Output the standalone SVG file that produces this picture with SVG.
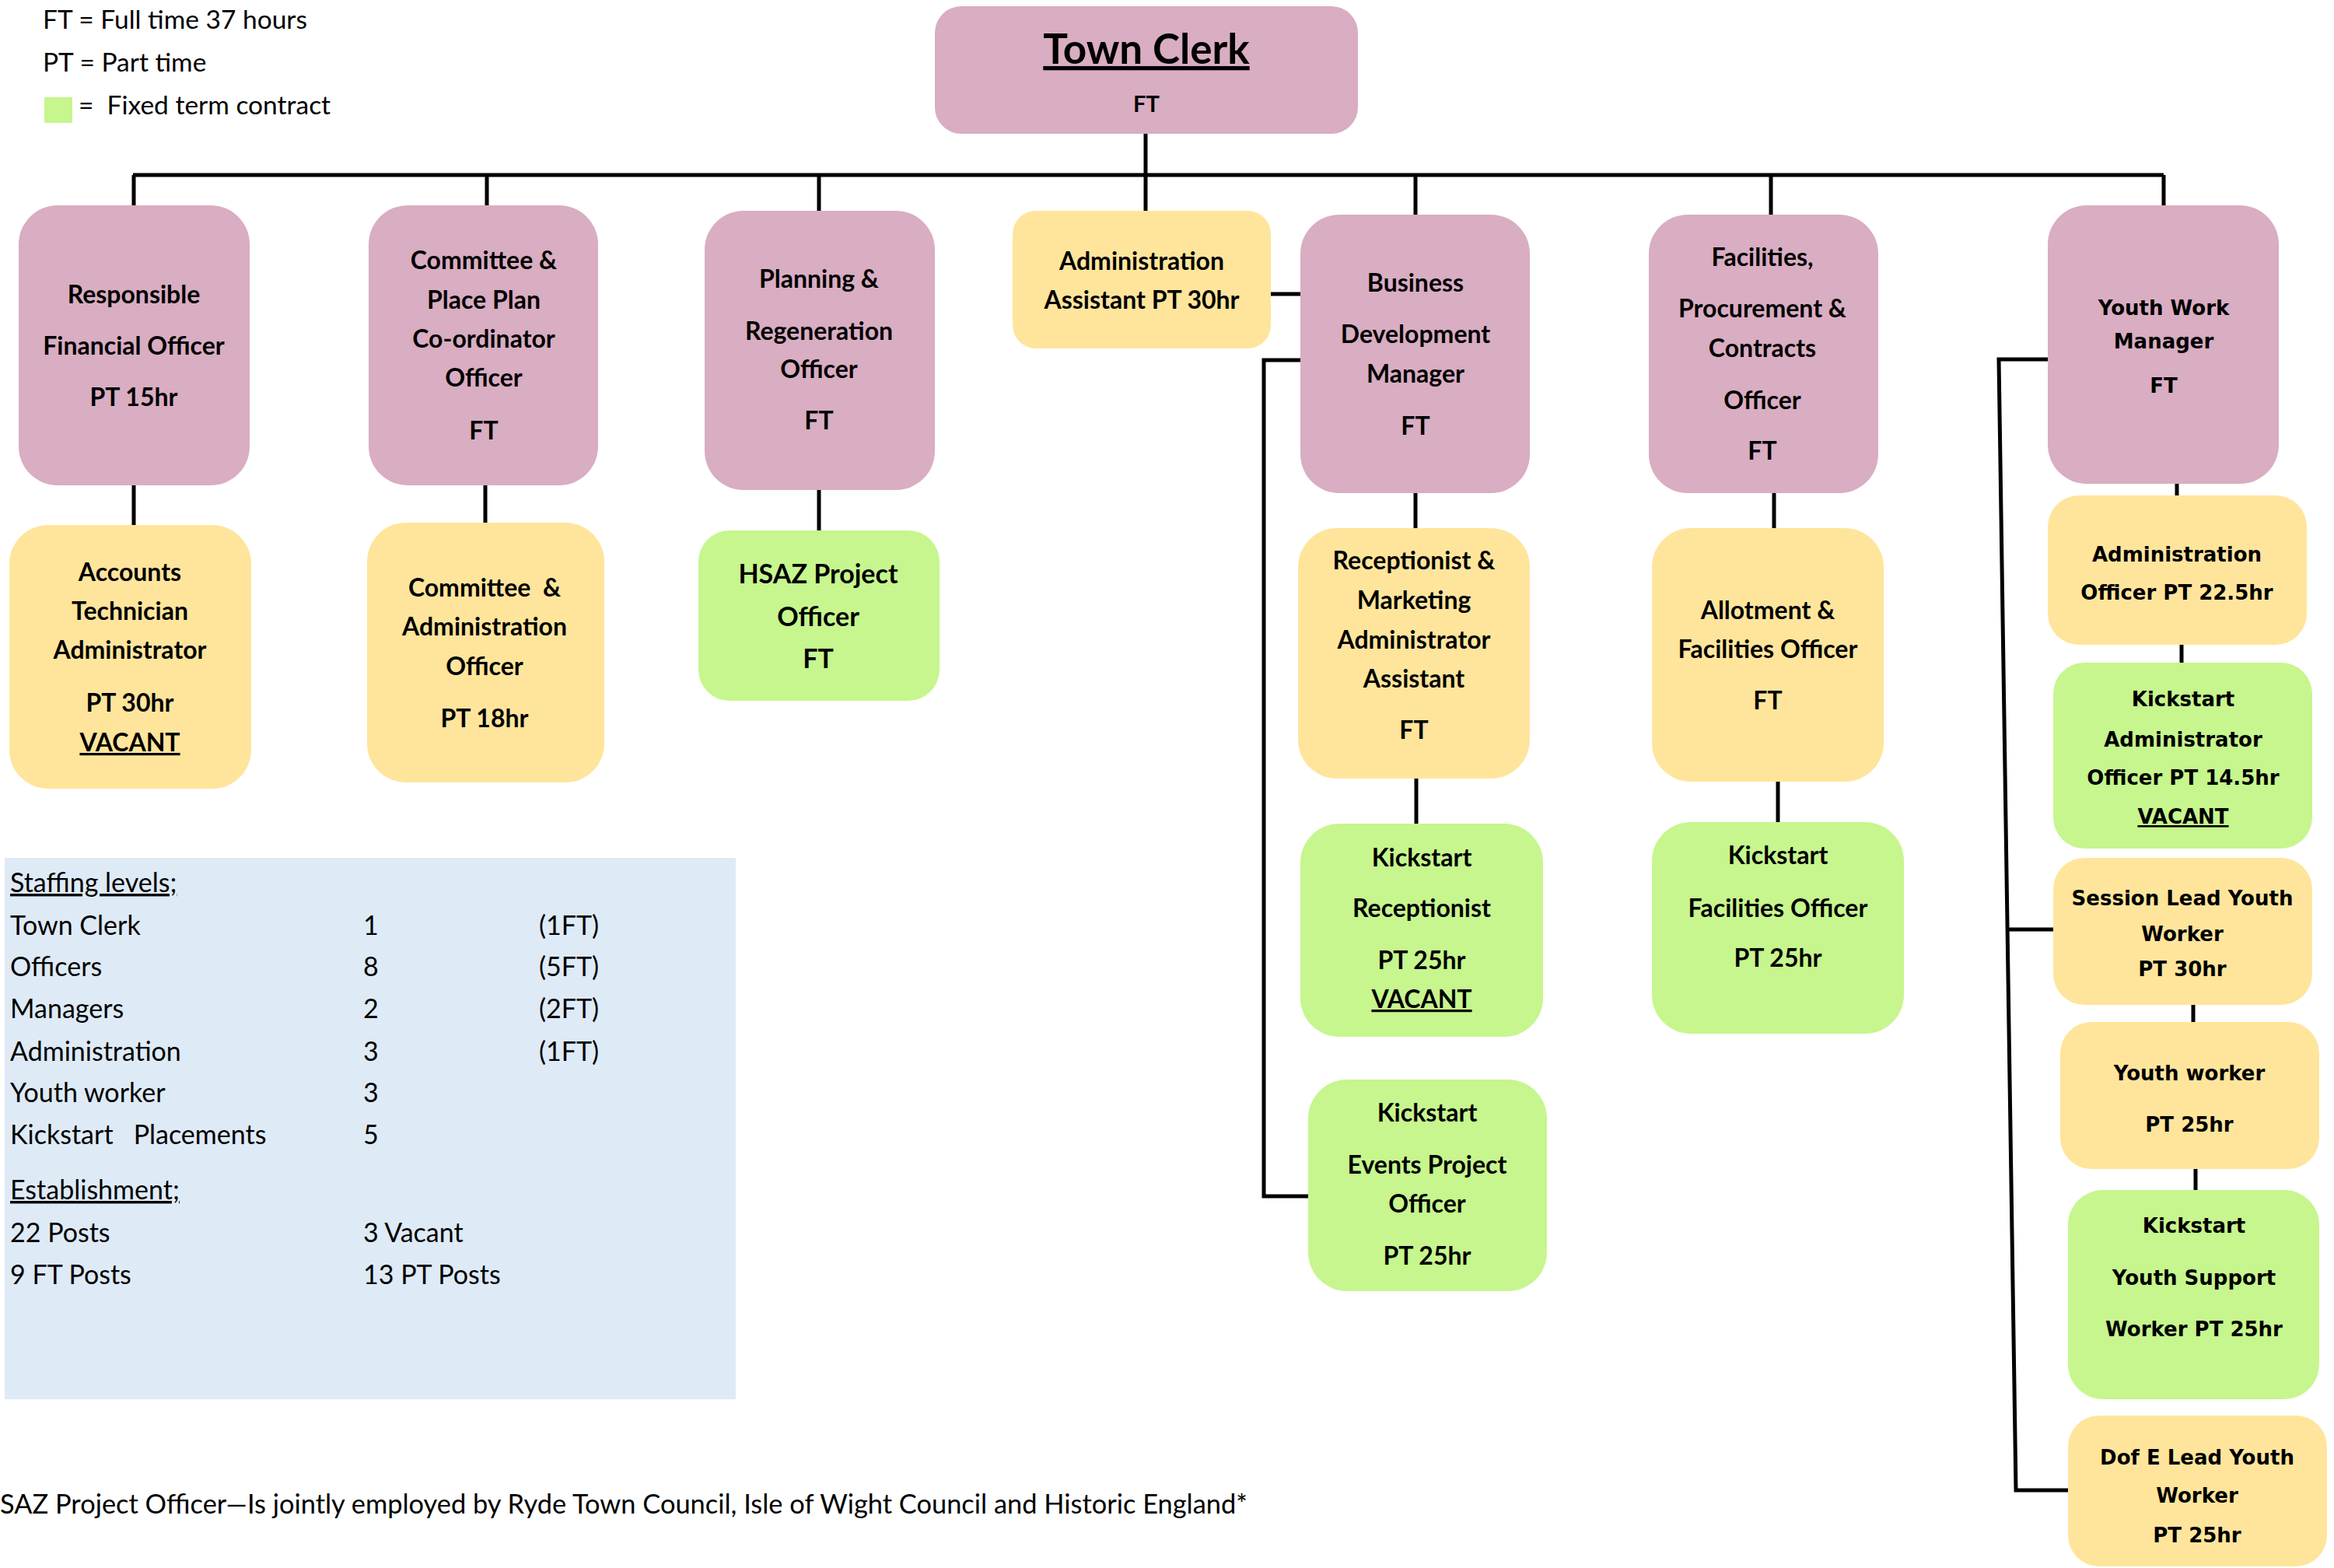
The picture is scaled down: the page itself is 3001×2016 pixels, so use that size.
<svg xmlns="http://www.w3.org/2000/svg" width="3001" height="2016" viewBox="0 0 3001 2016">
<style>
.pink{fill:#D9ADC2}
.yel{fill:#FFE59B}
.grn{fill:#C6F68D}
.t{font-family:Lato,"Liberation Sans",sans-serif;font-weight:bold;font-size:32px;fill:#000;text-anchor:middle}
.ty{font-family:"DejaVu Sans","Liberation Sans",sans-serif;font-weight:bold;font-size:26px;fill:#000;text-anchor:middle}
.r{font-family:Lato,"Liberation Sans",sans-serif;font-size:34px;fill:#000}
.lg{font-size:33.5px}
.u{text-decoration:underline}
.conn{fill:none;stroke:#000;stroke-width:5}
</style>
<rect width="3001" height="2016" fill="#fff"/>

<g id="legend">
<text class="r lg" x="55" y="37">FT = Full time 37 hours</text>
<text class="r lg" x="55" y="92">PT = Part time</text>
<rect x="57" y="125" width="36" height="33" class="grn"/>
<text class="r lg" x="101" y="147" style="white-space:pre">=  Fixed term contract</text>
</g>

<g id="connectors">
<path class="conn" d="M171,225 H2782"/>
<path class="conn" d="M172,225 V264 M626,225 V264 M1053,225 V271 M1473,172 V271 M1820,225 V276 M2277,225 V276 M2782,225 V264"/>
<path class="conn" d="M172,624 V675 M624,624 V672 M1053,630 V682 M1820,634 V679 M2281,634 V679 M1821,1001 V1059 M2286,1005 V1057"/>
<path class="conn" d="M2799,622 V637 M2805,829 V852 M2820,1292 V1314 M2823,1503 V1530"/>
<path class="conn" d="M1634,378 H1672"/>
<path class="conn" d="M1672,463 H1625 V1538 H1682"/>
<path class="conn" d="M2633,462 H2570 L2592,1916 H2659 M2580,1195 H2640"/>
</g>

<g id="town-clerk">
<rect x="1202" y="8" width="544" height="164" rx="34" class="pink"/>
<text class="t u" x="1474" y="82" style="font-size:53px">Town Clerk</text>
<text class="t" x="1474" y="144" style="font-size:29px">FT</text>
</g>

<g id="rfo">
<rect x="24" y="264" width="297" height="360" rx="50" class="pink"/>
<text class="t" x="172" y="390">Responsible</text>
<text class="t" x="172" y="456">Financial Officer</text>
<text class="t" x="172" y="522">PT 15hr</text>
</g>

<g id="accounts">
<rect x="12" y="675" width="311" height="339" rx="50" class="yel"/>
<text class="t" x="167" y="747">Accounts</text>
<text class="t" x="167" y="797">Technician</text>
<text class="t" x="167" y="847">Administrator</text>
<text class="t" x="167" y="915">PT 30hr</text>
<text class="t u" x="167" y="966">VACANT</text>
</g>

<g id="committee-place-plan">
<rect x="474" y="264" width="295" height="360" rx="50" class="pink"/>
<text class="t" x="622" y="346">Committee &amp;</text>
<text class="t" x="622" y="397">Place Plan</text>
<text class="t" x="622" y="447">Co-ordinator</text>
<text class="t" x="622" y="497">Officer</text>
<text class="t" x="622" y="565">FT</text>
</g>

<g id="committee-admin">
<rect x="472" y="672" width="305" height="334" rx="50" class="yel"/>
<text class="t" x="623" y="767" style="white-space:pre">Committee  &amp;</text>
<text class="t" x="623" y="817">Administration</text>
<text class="t" x="623" y="868">Officer</text>
<text class="t" x="623" y="935">PT 18hr</text>
</g>

<g id="planning">
<rect x="906" y="271" width="296" height="359" rx="50" class="pink"/>
<text class="t" x="1053" y="370">Planning &amp;</text>
<text class="t" x="1053" y="437">Regeneration</text>
<text class="t" x="1053" y="486">Officer</text>
<text class="t" x="1053" y="552">FT</text>
</g>

<g id="hsaz">
<rect x="898" y="682" width="310" height="219" rx="40" class="grn"/>
<text class="t" x="1052" y="750" style="font-size:34px">HSAZ Project</text>
<text class="t" x="1052" y="805" style="font-size:34px">Officer</text>
<text class="t" x="1052" y="859" style="font-size:34px">FT</text>
</g>

<g id="admin-assistant">
<rect x="1302" y="271" width="332" height="177" rx="30" class="yel"/>
<text class="t" x="1468" y="347">Administration</text>
<text class="t" x="1468" y="397">Assistant PT 30hr</text>
</g>

<g id="bdm">
<rect x="1672" y="276" width="295" height="358" rx="50" class="pink"/>
<text class="t" x="1820" y="375">Business</text>
<text class="t" x="1820" y="441">Development</text>
<text class="t" x="1820" y="492">Manager</text>
<text class="t" x="1820" y="559">FT</text>
</g>

<g id="receptionist-marketing">
<rect x="1669" y="679" width="298" height="322" rx="50" class="yel"/>
<text class="t" x="1818" y="732">Receptionist &amp;</text>
<text class="t" x="1818" y="783">Marketing</text>
<text class="t" x="1818" y="834">Administrator</text>
<text class="t" x="1818" y="884">Assistant</text>
<text class="t" x="1818" y="950">FT</text>
</g>

<g id="kickstart-receptionist">
<rect x="1672" y="1059" width="312" height="274" rx="50" class="grn"/>
<text class="t" x="1828" y="1114">Kickstart</text>
<text class="t" x="1828" y="1179">Receptionist</text>
<text class="t" x="1828" y="1246">PT 25hr</text>
<text class="t u" x="1828" y="1296">VACANT</text>
</g>

<g id="kickstart-events">
<rect x="1682" y="1388" width="307" height="272" rx="50" class="grn"/>
<text class="t" x="1835" y="1442">Kickstart</text>
<text class="t" x="1835" y="1509">Events Project</text>
<text class="t" x="1835" y="1559">Officer</text>
<text class="t" x="1835" y="1626">PT 25hr</text>
</g>

<g id="facilities-procurement">
<rect x="2120" y="276" width="295" height="358" rx="50" class="pink"/>
<text class="t" x="2266" y="342">Facilities,</text>
<text class="t" x="2266" y="408">Procurement &amp;</text>
<text class="t" x="2266" y="459">Contracts</text>
<text class="t" x="2266" y="526">Officer</text>
<text class="t" x="2266" y="591">FT</text>
</g>

<g id="allotment">
<rect x="2124" y="679" width="298" height="326" rx="50" class="yel"/>
<text class="t" x="2273" y="796">Allotment &amp;</text>
<text class="t" x="2273" y="846">Facilities Officer</text>
<text class="t" x="2273" y="912">FT</text>
</g>

<g id="kickstart-facilities">
<rect x="2124" y="1057" width="324" height="272" rx="50" class="grn"/>
<text class="t" x="2286" y="1111">Kickstart</text>
<text class="t" x="2286" y="1179">Facilities Officer</text>
<text class="t" x="2286" y="1243">PT 25hr</text>
</g>

<g id="youth-work-manager">
<rect x="2633" y="264" width="297" height="358" rx="50" class="pink"/>
<text class="ty" x="2782" y="405">Youth Work</text>
<text class="ty" x="2782" y="448">Manager</text>
<text class="ty" x="2782" y="505">FT</text>
</g>

<g id="admin-officer">
<rect x="2633" y="637" width="333" height="192" rx="40" class="yel"/>
<text class="ty" x="2799" y="722">Administration</text>
<text class="ty" x="2799" y="771">Officer PT 22.5hr</text>
</g>

<g id="kickstart-admin-officer">
<rect x="2640" y="852" width="333" height="239" rx="40" class="grn"/>
<text class="ty" x="2807" y="908">Kickstart</text>
<text class="ty" x="2807" y="960">Administrator</text>
<text class="ty" x="2807" y="1009">Officer PT 14.5hr</text>
<text class="ty u" x="2807" y="1059">VACANT</text>
</g>

<g id="session-lead">
<rect x="2640" y="1103" width="333" height="189" rx="40" class="yel"/>
<text class="ty" x="2806" y="1164">Session Lead Youth</text>
<text class="ty" x="2806" y="1210">Worker</text>
<text class="ty" x="2806" y="1255">PT 30hr</text>
</g>

<g id="youth-worker">
<rect x="2649" y="1314" width="333" height="189" rx="40" class="yel"/>
<text class="ty" x="2815" y="1389">Youth worker</text>
<text class="ty" x="2815" y="1455">PT 25hr</text>
</g>

<g id="kickstart-youth-support">
<rect x="2659" y="1530" width="323" height="269" rx="45" class="grn"/>
<text class="ty" x="2821" y="1585">Kickstart</text>
<text class="ty" x="2821" y="1652">Youth Support</text>
<text class="ty" x="2821" y="1718">Worker PT 25hr</text>
</g>

<g id="dofe">
<rect x="2659" y="1820" width="333" height="194" rx="40" class="yel"/>
<text class="ty" x="2825" y="1883">Dof E Lead Youth</text>
<text class="ty" x="2825" y="1932">Worker</text>
<text class="ty" x="2825" y="1983">PT 25hr</text>
</g>

<g id="staffing">
<rect x="6" y="1103" width="940" height="696" fill="#DEEAF6"/>
<text class="r u" x="13" y="1147">Staffing levels;</text>
<text class="r" x="13" y="1202">Town Clerk</text>
<text class="r" x="467" y="1202">1</text>
<text class="r" x="693" y="1202">(1FT)</text>
<text class="r" x="13" y="1255">Officers</text>
<text class="r" x="467" y="1255">8</text>
<text class="r" x="693" y="1255">(5FT)</text>
<text class="r" x="13" y="1309">Managers</text>
<text class="r" x="467" y="1309">2</text>
<text class="r" x="693" y="1309">(2FT)</text>
<text class="r" x="13" y="1364">Administration</text>
<text class="r" x="467" y="1364">3</text>
<text class="r" x="693" y="1364">(1FT)</text>
<text class="r" x="13" y="1417">Youth worker</text>
<text class="r" x="467" y="1417">3</text>
<text class="r" x="13" y="1471" style="white-space:pre">Kickstart   Placements</text>
<text class="r" x="467" y="1471">5</text>
<text class="r u" x="13" y="1542">Establishment;</text>
<text class="r" x="13" y="1597">22 Posts</text>
<text class="r" x="467" y="1597">3 Vacant</text>
<text class="r" x="13" y="1651">9 FT Posts</text>
<text class="r" x="467" y="1651">13 PT Posts</text>
</g>

<g id="footnote">
<text class="r" x="0" y="1946" style="font-size:34.4px">SAZ Project Officer—Is jointly employed by Ryde Town Council, Isle of Wight Council and Historic England*</text>
</g>
</svg>
